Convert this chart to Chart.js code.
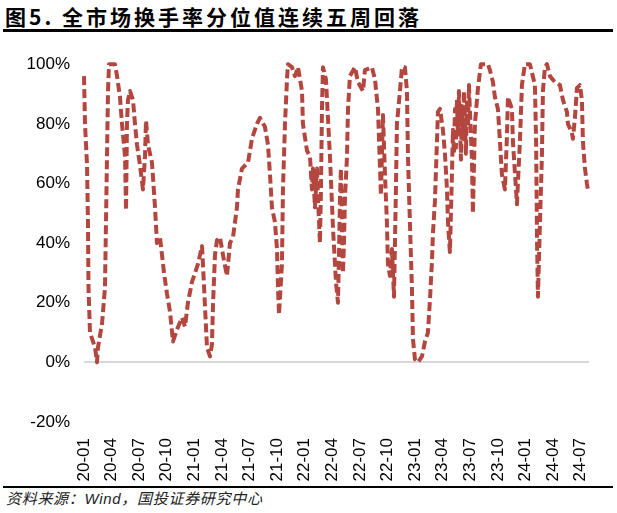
<!DOCTYPE html>
<html>
<head>
<meta charset="utf-8">
<script src="https://cdn.jsdelivr.net/npm/chart.js@4/dist/chart.umd.min.js"></script>
<style>
  body { margin: 0; background: #fff; width: 617px; height: 513px; position: relative; overflow: hidden; }
  #title { position: absolute; left: 5px; top: 1px; font: bold 21px "Noto Sans CJK SC", sans-serif; letter-spacing: 3px; color: #000; white-space: nowrap; }
  .rule { position: absolute; left: 3px; width: 610px; background: #000; }
  #wrap { position: absolute; left: 0; top: 40px; width: 617px; height: 445px; }
  #source { position: absolute; left: 6px; top: 487px; font: italic 15px "Noto Sans CJK SC", sans-serif; letter-spacing: 0.7px; color: #222; white-space: nowrap; }
  #source span { font-family: "Liberation Sans", Arial, sans-serif; }
</style>
</head>
<body>
<div id="title">图5. 全市场换手率分位值连续五周回落</div>
<div class="rule" style="top:29px;height:3px;"></div>
<div id="wrap"><canvas id="chart" width="617" height="445"></canvas></div>
<div class="rule" style="top:486px;height:2px;"></div>
<div id="source">资料来源：<span>Wind</span>，国投证券研究中心</div>
<script>
// months since 2020-01 for each observation
var monthPos = [
    0, 0.11, 0.33, 0.43, 0.49, 0.65, 1.20, 1.41, 1.52, 1.96, 2.28, 2.39, 2.50, 2.61, 2.72,
    3.37, 3.59, 3.91, 4.13, 4.46, 4.57, 4.67, 4.78, 5.00, 5.33, 5.54, 5.76, 6.09, 6.41, 6.63,
    6.74, 6.96, 7.39, 7.72, 7.93, 8.26, 8.48, 8.70, 9.02, 9.35, 9.67, 10.11, 10.65, 10.98, 11.30,
    11.74, 12.07, 12.39, 12.83, 12.93, 13.15, 13.37, 13.70, 13.91, 14.02, 14.24, 14.46, 14.78, 15.11, 15.54,
    15.87, 16.20, 16.63, 16.74, 17.17, 17.83, 18.26, 18.80, 19.13, 19.67, 20.00, 20.22, 20.43, 20.76, 20.98,
    21.09, 21.20, 21.52, 21.63, 21.85, 22.07, 22.17, 22.61, 22.93, 23.26, 23.70, 23.80, 24.24, 24.57, 24.78,
    24.89, 25.11, 25.33, 25.43, 25.65, 25.76, 25.87, 25.98, 26.30, 26.74, 27.07, 27.39, 27.61, 27.72, 27.83,
    27.93, 28.04, 28.15, 28.26, 28.37, 28.59, 28.70, 28.91, 29.46, 29.78, 30.33, 30.54, 31.30, 31.63, 31.96,
    32.28, 32.50, 32.72, 32.93, 33.04, 33.26, 33.48, 33.70, 33.91, 34.02, 34.35, 34.57, 34.89, 35.11, 35.22,
    35.43, 35.65, 35.76, 35.98, 36.30, 36.74, 37.07, 37.39, 37.61, 37.83, 37.93, 38.15, 38.37, 38.48, 38.70,
    39.02, 39.24, 39.46, 39.57, 39.78, 40.00, 40.11, 40.22, 40.33, 40.43, 40.54, 40.65, 40.76, 40.87, 40.98,
    41.09, 41.20, 41.30, 41.41, 41.52, 41.63, 41.74, 41.85, 41.96, 42.17, 42.28, 42.50, 42.83, 43.15, 43.91,
    44.13, 44.46, 44.67, 45.00, 45.22, 45.43, 45.76, 45.98, 46.09, 46.52, 46.63, 47.07, 47.17, 47.39, 47.61,
    47.93, 48.48, 49.02, 49.15, 49.25, 49.35, 49.57, 49.78, 49.89, 50.11, 50.33, 50.65, 51.20, 51.74, 52.07,
    52.50, 52.61, 53.04, 53.15, 53.37, 53.59, 53.91, 54.13, 54.24, 54.46, 54.67, 54.78
];

// turnover percentile, %
var turnoverPct = [
    96, 80, 66, 47, 25, 10, 5, 0, 5, 13, 25, 47, 69, 91, 100,
    100, 96, 89, 80, 69, 51, 80, 88, 91, 88, 80, 73, 66, 58, 69,
    81, 73, 67, 52, 40, 42, 36, 30, 23, 17, 7, 11, 15, 12, 20,
    27, 30, 33, 39, 33, 19, 5, 2, 6, 19, 36, 41, 42, 36, 29,
    40, 42, 52, 58, 65, 67, 75, 80, 82, 79, 73, 63, 52, 47, 38,
    25, 16, 33, 58, 80, 95, 100, 99, 96, 99, 91, 80, 71, 69, 58,
    65, 52, 65, 56, 40, 58, 85, 99, 95, 69, 45, 27, 20, 36, 55,
    65, 45, 30, 40, 55, 69, 85, 96, 99, 94, 91, 98, 99, 95, 85,
    56, 83, 63, 47, 33, 29, 38, 22, 58, 80, 91, 99, 99, 91, 69,
    47, 25, 8, 1, 0, 2, 7, 10, 21, 34, 43, 54, 74, 84, 85,
    78, 70, 58, 47, 37, 63, 78, 70, 85, 72, 88, 76, 91, 80, 68,
    86, 75, 91, 82, 70, 88, 79, 93, 84, 68, 50, 80, 92, 100, 100,
    98, 94, 89, 85, 74, 63, 58, 76, 89, 85, 74, 53, 60, 74, 93,
    100, 100, 93, 74, 41, 22, 47, 69, 91, 99, 100, 96, 94, 93, 88,
    84, 80, 77, 75, 82, 92, 93, 88, 74, 65, 60, 58
];

var tickMonths = [0, 3, 6, 9, 12, 15, 18, 21, 24, 27, 30, 33, 36, 39, 42, 45, 48, 51, 54];
var tickLabels = ['20-01', '20-04', '20-07', '20-10', '21-01', '21-04', '21-07', '21-10', '22-01', '22-04',
    '22-07', '22-10', '23-01', '23-04', '23-07', '23-10', '24-01', '24-04', '24-07'];

var LINE_COLOR = '#B3463F';
var FONT = { family: '"Liberation Sans", Arial, sans-serif', size: 17 };

var points = monthPos.map(function (m, i) {
    return { x: m, y: turnoverPct[i] };
});

new Chart(document.getElementById('chart').getContext('2d'), {
    type: 'line',
    data: {
        datasets: [{
            data: points,
            borderColor: LINE_COLOR,
            borderWidth: 4,
            borderDash: [9, 4],
            borderJoinStyle: 'round',
            pointRadius: 0,
            tension: 0,
            fill: false,
            clip: false,
        }]
    },
    options: {
        responsive: false,
        animation: false,
        layout: { padding: { top: 21, right: 28, left: 0, bottom: 0 } },
        plugins: { legend: { display: false }, tooltip: { enabled: false } },
        scales: {
            x: {
                type: 'linear',
                min: 0,
                max: 54.9,
                afterBuildTicks: function (scale) {
                    scale.ticks = tickMonths.map(function (v) { return { value: v }; });
                },
                afterFit: function (scale) { scale.height = 63; },
                ticks: {
                    autoSkip: false,
                    minRotation: 90,
                    maxRotation: 90,
                    padding: 8,
                    color: '#000',
                    font: FONT,
                    callback: function (value, index) { return tickLabels[index]; }
                },
                grid: { display: false },
                border: { display: false }
            },
            y: {
                min: -20,
                max: 100,
                afterFit: function (scale) { scale.width = 84; },
                ticks: {
                    stepSize: 20,
                    padding: 14,
                    color: '#000',
                    font: FONT,
                    callback: function (v) { return v + '%'; }
                },
                grid: {
                    drawTicks: false,
                    lineWidth: 2,
                    color: function (ctx) {
                        return ctx.tick && ctx.tick.value === 0 ? '#D9D9D9' : 'rgba(0,0,0,0)';
                    }
                },
                border: { display: false }
            }
        }
    }
});
</script>
</body>
</html>
